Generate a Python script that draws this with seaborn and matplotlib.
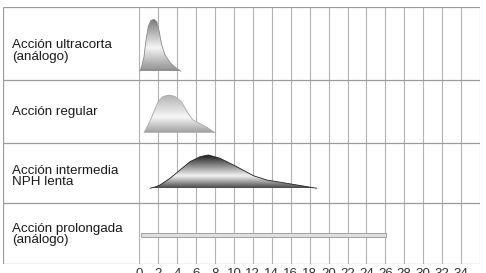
import numpy as np
import pandas as pd
import matplotlib
matplotlib.use("Agg")
import matplotlib.pyplot as plt
from matplotlib.colors import LinearSegmentedColormap
import seaborn as sns

# ---------------- data ----------------
categories = ["Acción ultracorta\n(análogo)", "Acción regular",
              "Acción intermedia\nNPH lenta", "Acción prolongada\n(análogo)"]
hour_ticks = list(range(0, 36, 2))

ultra_h = [0.07, 0.25, 0.5, 0.71, 0.95, 1.21, 1.56, 1.84, 2.11, 2.37, 2.72, 3.25, 3.78, 4.41]
ultra_v = [0, 4.7, 14.7, 31.3, 44.7, 50.7, 52, 49.7, 39.7, 26.3, 16.3, 8.7, 4, 0]

regular_h = [0.50, 0.82, 1.27, 1.98, 2.51, 3.21, 3.77, 4.44, 5.15, 5.68, 6.55, 7.26, 7.97]
regular_v = [0, 5.7, 14.7, 31, 36.2, 37.7, 36.2, 31, 19.4, 12.7, 8.4, 4.7, 0]

nph_h = [1.13, 1.66, 2.19, 3.25, 4.30, 5.36, 6.42, 7.29, 8.53, 10.30, 12.05, 13.47, 15.58, 18.75]
nph_v = [0, 1.3, 3.3, 10, 18.3, 26.6, 31.6, 33.3, 30, 21.6, 12.6, 8.3, 5, 0]

prolong_start, prolong_end = 0.2, 26.1

# ---------------- layout / style ----------------
W, H = 486, 273
row_edges = [7, 80, 143, 203, 264]          # pixel rows of the table
baselines = [71.3, 132.7, 188.3]
label_y = [51, 112, 176.5, 234.5]
x_left, x_right = -14.4, 36.0
grads = [
    [(0.0, "#8e8e8e"), (0.45, "#f5f5f5"), (1.0, "#7a7a7a")],
    [(0.0, "#9c9c9c"), (0.42, "#f7f7f7"), (1.0, "#b3b3b3")],
    [(0.0, "#484848"), (0.36, "#f2f2f2"), (1.0, "#151515")],
]
edge_cols = ["#8a8a8a", "#a8a8a8", "#202020"]

sns.set_theme(style="white")
plt.rcParams["font.family"] = ["Liberation Sans", "DejaVu Sans"]

fig = plt.figure(figsize=(W / 100, H / 100), dpi=100)
ax = fig.add_axes([3 / W, 1 - 264 / H, (480 - 3) / W, (264 - 7) / H])
ax.set_xlim(x_left, x_right)
ax.set_ylim(264, 7)
for s in ax.spines.values():
    s.set_visible(False)

# grid
ax.vlines(hour_ticks + [36], 7, 264, color="#b2b2b2", lw=0.8, zorder=1)
ax.hlines(row_edges, x_left, x_right, color="#9a9a9a", lw=0.9, zorder=1)
ax.vlines([x_left], 7, 264, color="#9a9a9a", lw=0.9, zorder=1)

# curves
curves = [(ultra_h, ultra_v), (regular_h, regular_v), (nph_h, nph_v)]
frames = []
for i, (hh, vv) in enumerate(curves):
    base = baselines[i]
    frames.append(pd.DataFrame({"hora": hh,
                                "y": [base - v for v in vv],
                                "tipo": categories[i]}))
    xs = np.array(hh)
    ys = base - np.array(vv)
    poly = ax.fill(xs, ys, facecolor="none", edgecolor="none", zorder=2)[0]
    cmap = LinearSegmentedColormap.from_list(f"g{i}", grads[i])
    peak = max(vv)
    grad = np.linspace(1, 0, 200).reshape(-1, 1)
    im = ax.imshow(grad, cmap=cmap, vmin=0, vmax=1, aspect="auto",
                   origin="upper", extent=(min(hh), max(hh), base, base - peak),
                   zorder=3, interpolation="bilinear")
    im.set_clip_path(poly)

df = pd.concat(frames, ignore_index=True)
sns.lineplot(data=df, x="hora", y="y", hue="tipo", palette=edge_cols[:3],
             sort=False, estimator=None, lw=0.6, legend=False, ax=ax, zorder=4)

# long-acting bar
ax.barh([235], [prolong_end - prolong_start], left=prolong_start, height=4.6,
        color="#dedede", edgecolor="#a0a0a0", linewidth=0.7, zorder=3)

# row labels
for lab, yy in zip(categories, label_y):
    ax.text(-13.45, yy, lab, ha="left", va="center", fontsize=9.6,
            color="#1a1a1a", linespacing=0.95)

ax.set_xticks(hour_ticks)
ax.set_xticklabels([str(t) for t in hour_ticks], fontsize=9.6, color="#333333")
ax.tick_params(axis="x", length=0, pad=3)
ax.set_yticks([])
ax.set_xlabel("")
ax.set_ylabel("")

fig.savefig("out.png", dpi=100)
